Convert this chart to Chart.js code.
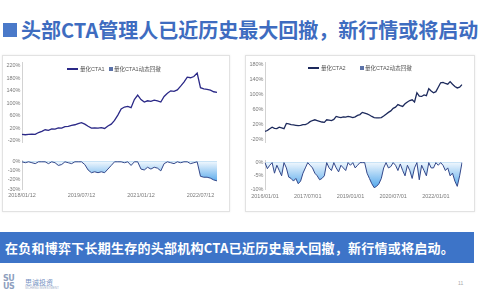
<!DOCTYPE html>
<html>
<head>
<meta charset="utf-8">
<script src="https://cdn.jsdelivr.net/npm/chart.js@4.4.0/dist/chart.umd.min.js"></script>
<style>
  html, body { margin: 0; padding: 0; background: #fff; }
  body { width: 500px; height: 300px; position: relative; overflow: hidden; font-family: "Noto Sans CJK SC", sans-serif; }
  .abs { position: absolute; }
  #mark { left: 3px; top: 23px; width: 14px; height: 14px; background: #4a79c9; }
  #title { left: 21px; top: 19px; font-size: 20px; line-height: 22px; font-weight: bold; color: #3e6cc0; white-space: nowrap; }
  .panel { top: 55px; height: 157px; border: 1px solid #e2e2e2; box-shadow: 0 0 2px rgba(0,0,0,0.08); box-sizing: border-box; }
  #banner { left: 0; top: 232px; width: 474px; height: 31px; background: #3d74c8; color: #fff; font-size: 13px; letter-spacing: 0.25px; font-weight: bold; line-height: 31px; padding-left: 5px; box-sizing: border-box; white-space: nowrap; }
  #logo { left: 3px; top: 275px; font-family: "DejaVu Sans", sans-serif; font-size: 8px; line-height: 8px; font-weight: bold; color: #8e9fbe; letter-spacing: -0.5px; }
  #brand { left: 25px; top: 278px; font-size: 7px; line-height: 8px; color: #7390c2; }
  #brandSub { left: 25px; top: 287px; font-size: 3px; line-height: 3px; color: #a0aec8; font-family: "Liberation Sans", sans-serif; }
  #page { left: 458px; top: 280px; font-size: 5px; color: #a8a8a8; font-family: "Liberation Sans", sans-serif; }
  .lg-line { height: 1.5px; width: 11px; }
  .lg-box { width: 4px; height: 4px; }
  .lg-text { font-size: 5.5px; line-height: 6px; color: #555; white-space: nowrap; font-family: "Liberation Sans", "Noto Sans CJK SC", sans-serif; }
</style>
</head>
<body>
<div id="mark" class="abs"></div>
<div id="title" class="abs">头部CTA管理人已近历史最大回撤，新行情或将启动</div>

<div class="abs panel" style="left:2px;width:228px;"></div>
<div class="abs panel" style="left:245px;width:230px;"></div>

<canvas id="navL" class="abs" width="228" height="90" style="left:2px;top:57px;width:228px;height:90px;"></canvas>
<canvas id="ddL" class="abs" width="228" height="56" style="left:2px;top:150px;width:228px;height:56px;"></canvas>
<canvas id="navR" class="abs" width="230" height="90" style="left:245px;top:57px;width:230px;height:90px;"></canvas>
<canvas id="ddR" class="abs" width="230" height="58" style="left:245px;top:150px;width:230px;height:58px;"></canvas>

<div id="lgL"></div>
<div id="lgR"></div>

<div id="banner" class="abs">在负和博弈下长期生存的头部机构CTA已近历史最大回撤，新行情或将启动。</div>
<div id="logo" class="abs">SU<br>US</div>
<div id="brand" class="abs">思诚投资</div>
<div id="brandSub" class="abs">SICHENG INVESTMENT</div>
<div id="page" class="abs">11</div>

<script>
// CTA1: monthly, 2018/01 - 2022/12
const NAME_L = '量化CTA1';
const DD_NAME_L = '量化CTA1动态回撤';
const NAV_L = [0, -1, 0, 1, 0, 6, 10, 15, 13, 18, 17, 21, 20, 25, 26, 29, 31, 35, 38, 33,
  26, 20, 21, 20, 22, 19, 27, 33, 45, 62, 82, 88, 90, 86, 112, 126, 112, 104, 108, 106,
  110, 108, 104, 122, 132, 140, 138, 143, 155, 168, 184, 182, 186, 197, 150, 146, 145, 142, 137, 135];
const DD_L = [0, -1, 0, -1, -2, 0, 0, 0, -2, 0, -1, -4, -3, 0, -1, -2, 0, 0, 0, -3,
  -9, -12, -11, -12, -11, -12, -8, -4, 0, 0, 0, -1, 0, -4, 0, 0, -8, -9, -6, -8,
  -6, -7, -10, -2, 0, -1, -2, 0, -1, 0, 0, -2, -1, 0, -16, -17, -17, -18, -20, -21];
const NAV_TICKS_L = [-20, 20, 60, 100, 140, 180, 220];
const DD_TICKS_L = [0, -10, -20, -30];
const DATE_TICKS_L = [0, 18, 36, 54];

// CTA2: monthly, 2016/01 - 2022/12
const NAME_R = '量化CTA2';
const DD_NAME_R = '量化CTA2动态回撤';
const NAV_R = [1, 3, 8, 12, 9, 8, 12, 10, 8, 22, 21, 19, 18, 17, 16, 17, 19, 19, 22, 27,
  30, 32, 30, 28, 26, 25, 32, 31, 30, 33, 41, 39, 38, 40, 39, 41, 40, 38, 40, 44,
  46, 52, 50, 48, 45, 41, 38, 37, 37, 38, 42, 47, 52, 56, 63, 66, 73, 70, 68, 75,
  80, 84, 86, 80, 105, 96, 95, 99, 97, 116, 110, 105, 108, 120, 132, 133, 130, 128, 135, 128,
  122, 118, 120, 127];
const DD_R = [0, -2.3, -1, 0, -4, -1, -3, -5, 0, -2, -5.5, -6, -7, -6, -8, -7, -4, -2, 0, -1,
  -2, -4, -5, -6.5, -6, -5, 0, -2, -3, 0, -2, -3.5, -1, -2, -3, 0, -1, 0, -2, -1,
  0, 0, 0, -4, -6, -8, -9.5, -9, -8, -6, -2, 0, -2, -1.5, 0, -1, -3, -0.5, -3, -5,
  -1, -3, -6, -2, 0, -6.5, -1, -3, -5, 0, -2, -2, 0, -1, 0, -1, -3, -2, -5, -4,
  -7, -9, -5, 0];
const NAV_TICKS_R = [-20, 20, 60, 100, 140, 180];
const DD_TICKS_R = [0, -5, -10];
const DATE_TICKS_R = [0, 18, 36, 54, 72];

function monthLabels(startYear, count, day) {
  const out = [];
  for (let i = 0; i < count; i++) {
    const y = startYear + Math.floor(i / 12);
    const m = String(i % 12 + 1).padStart(2, '0');
    out.push(y + '/' + m + '/' + day);
  }
  return out;
}
const DATES_L = monthLabels(2018, NAV_L.length, '12');
const DATES_R = monthLabels(2016, NAV_R.length, '01');

const FONT = '"Liberation Sans", "Noto Sans CJK SC", sans-serif';
const TICK_COLOR = '#7a7a7a';
const AXIS_COLOR = '#d2d2d2';
const DD_LINE = '#34488a';
const DD_KEY = '#5b72a8';
const NAV_COLOR_L = '#2b2987';
const NAV_COLOR_R = '#1d2a5c';

// html legend sitting inside the top plot
function addLegend(id, x, y, name, ddName, color, gap) {
  const el = document.getElementById(id);
  el.innerHTML =
    '<div class="abs lg-line" style="left:' + x + 'px;top:' + (y - 0.75) + 'px;background:' + color + '"></div>' +
    '<div class="abs lg-text" style="left:' + (x + 13) + 'px;top:' + (y - 3) + 'px">' + name + '</div>' +
    '<div class="abs lg-box" style="left:' + (x + gap) + 'px;top:' + (y - 2) + 'px;background:' + DD_KEY + '"></div>' +
    '<div class="abs lg-text" style="left:' + (x + gap + 5) + 'px;top:' + (y - 3) + 'px">' + ddName + '</div>';
}

function fixedTicks(values) {
  return axis => { axis.ticks = values.map(v => ({ value: v })); };
}

function ddGradient(ctx, low) {
  const chart = ctx.chart;
  const y = chart.scales.y;
  if (!chart.chartArea || !y) return '#a9d3f3';
  const g = chart.ctx.createLinearGradient(0, y.getPixelForValue(0), 0, y.getPixelForValue(low));
  g.addColorStop(0, '#eef6fd');
  g.addColorStop(1, '#4aa3ea');
  return g;
}

function makeNavChart(id, cfg) {
  return new Chart(document.getElementById(id), {
    type: 'line',
    data: {
      labels: cfg.labels,
      datasets: [{
        label: cfg.name,
        data: cfg.values,
        borderColor: cfg.color,
        borderWidth: 1.3,
        pointRadius: 0,
        tension: 0,
        fill: false
      }]
    },
    options: {
      responsive: false,
      animation: false,
      layout: { padding: cfg.padding },
      plugins: { tooltip: { enabled: false }, legend: { display: false } },
      scales: {
        x: { display: false },
        y: {
          min: cfg.min,
          max: cfg.max,
          afterBuildTicks: fixedTicks(cfg.ticks),
          afterFit: s => { s.width = cfg.axisW; },
          grid: { display: false, drawTicks: false },
          border: { display: true, color: AXIS_COLOR },
          ticks: { padding: 1.5, color: TICK_COLOR, font: { size: 5.5, family: FONT }, callback: v => v + '%' }
        }
      }
    }
  });
}

function makeDdChart(id, cfg) {
  return new Chart(document.getElementById(id), {
    type: 'line',
    data: {
      labels: cfg.labels,
      datasets: [{
        label: cfg.name,
        data: cfg.values,
        borderColor: DD_LINE,
        borderWidth: 1,
        pointRadius: 0,
        tension: 0,
        fill: 'origin',
        backgroundColor: ctx => ddGradient(ctx, cfg.gradLow)
      }]
    },
    options: {
      responsive: false,
      animation: false,
      layout: { padding: cfg.padding },
      plugins: { legend: { display: false }, tooltip: { enabled: false } },
      scales: {
        x: {
          afterBuildTicks: axis => { axis.ticks = cfg.dateTicks.map(i => ({ value: i })); },
          grid: { display: false, drawTicks: false },
          border: { display: false },
          ticks: { autoSkip: false, maxRotation: 0, padding: cfg.xPad, color: TICK_COLOR, font: { size: 5.5, family: FONT } }
        },
        y: {
          min: cfg.min,
          max: cfg.max,
          afterBuildTicks: fixedTicks(cfg.ticks),
          afterFit: s => { s.width = cfg.axisW; },
          grid: { drawTicks: false, color: c => (c.tick && c.tick.value === 0) ? '#bcdcf3' : 'rgba(0,0,0,0)' },
          border: { display: true, color: AXIS_COLOR },
          ticks: { padding: 1.5, color: TICK_COLOR, font: { size: 5.5, family: FONT }, callback: v => v + '%' }
        }
      }
    }
  });
}

makeNavChart('navL', {
  labels: DATES_L, values: NAV_L, name: NAME_L, color: NAV_COLOR_L,
  min: -25, max: 230, ticks: NAV_TICKS_L, axisW: 18,
  padding: { left: 2, right: 13, top: 5.8, bottom: 3.4 }
});
makeDdChart('ddL', {
  labels: DATES_L, values: DD_L, name: DD_NAME_L,
  min: -30, max: 2, ticks: DD_TICKS_L, dateTicks: DATE_TICKS_L, axisW: 18, xPad: 3, gradLow: -24,
  padding: { left: 2, right: 13, top: 10, bottom: 4.4 }
});
makeNavChart('navR', {
  labels: DATES_R, values: NAV_R, name: NAME_R, color: NAV_COLOR_R,
  min: -28, max: 188, ticks: NAV_TICKS_R, axisW: 17,
  padding: { left: 3, right: 13, top: 5, bottom: 5 }
});
makeDdChart('ddR', {
  labels: DATES_R, values: DD_R, name: DD_NAME_R,
  min: -10, max: 1, ticks: DD_TICKS_R, dateTicks: DATE_TICKS_R, axisW: 17, xPad: 4, gradLow: -10,
  padding: { left: 3, right: 13, top: 10, bottom: 4.4 }
});

addLegend('lgL', 67, 69, NAME_L, DD_NAME_L, NAV_COLOR_L, 42);
addLegend('lgR', 308, 68, NAME_R, DD_NAME_R, NAV_COLOR_R, 52);
</script>
</body>
</html>
